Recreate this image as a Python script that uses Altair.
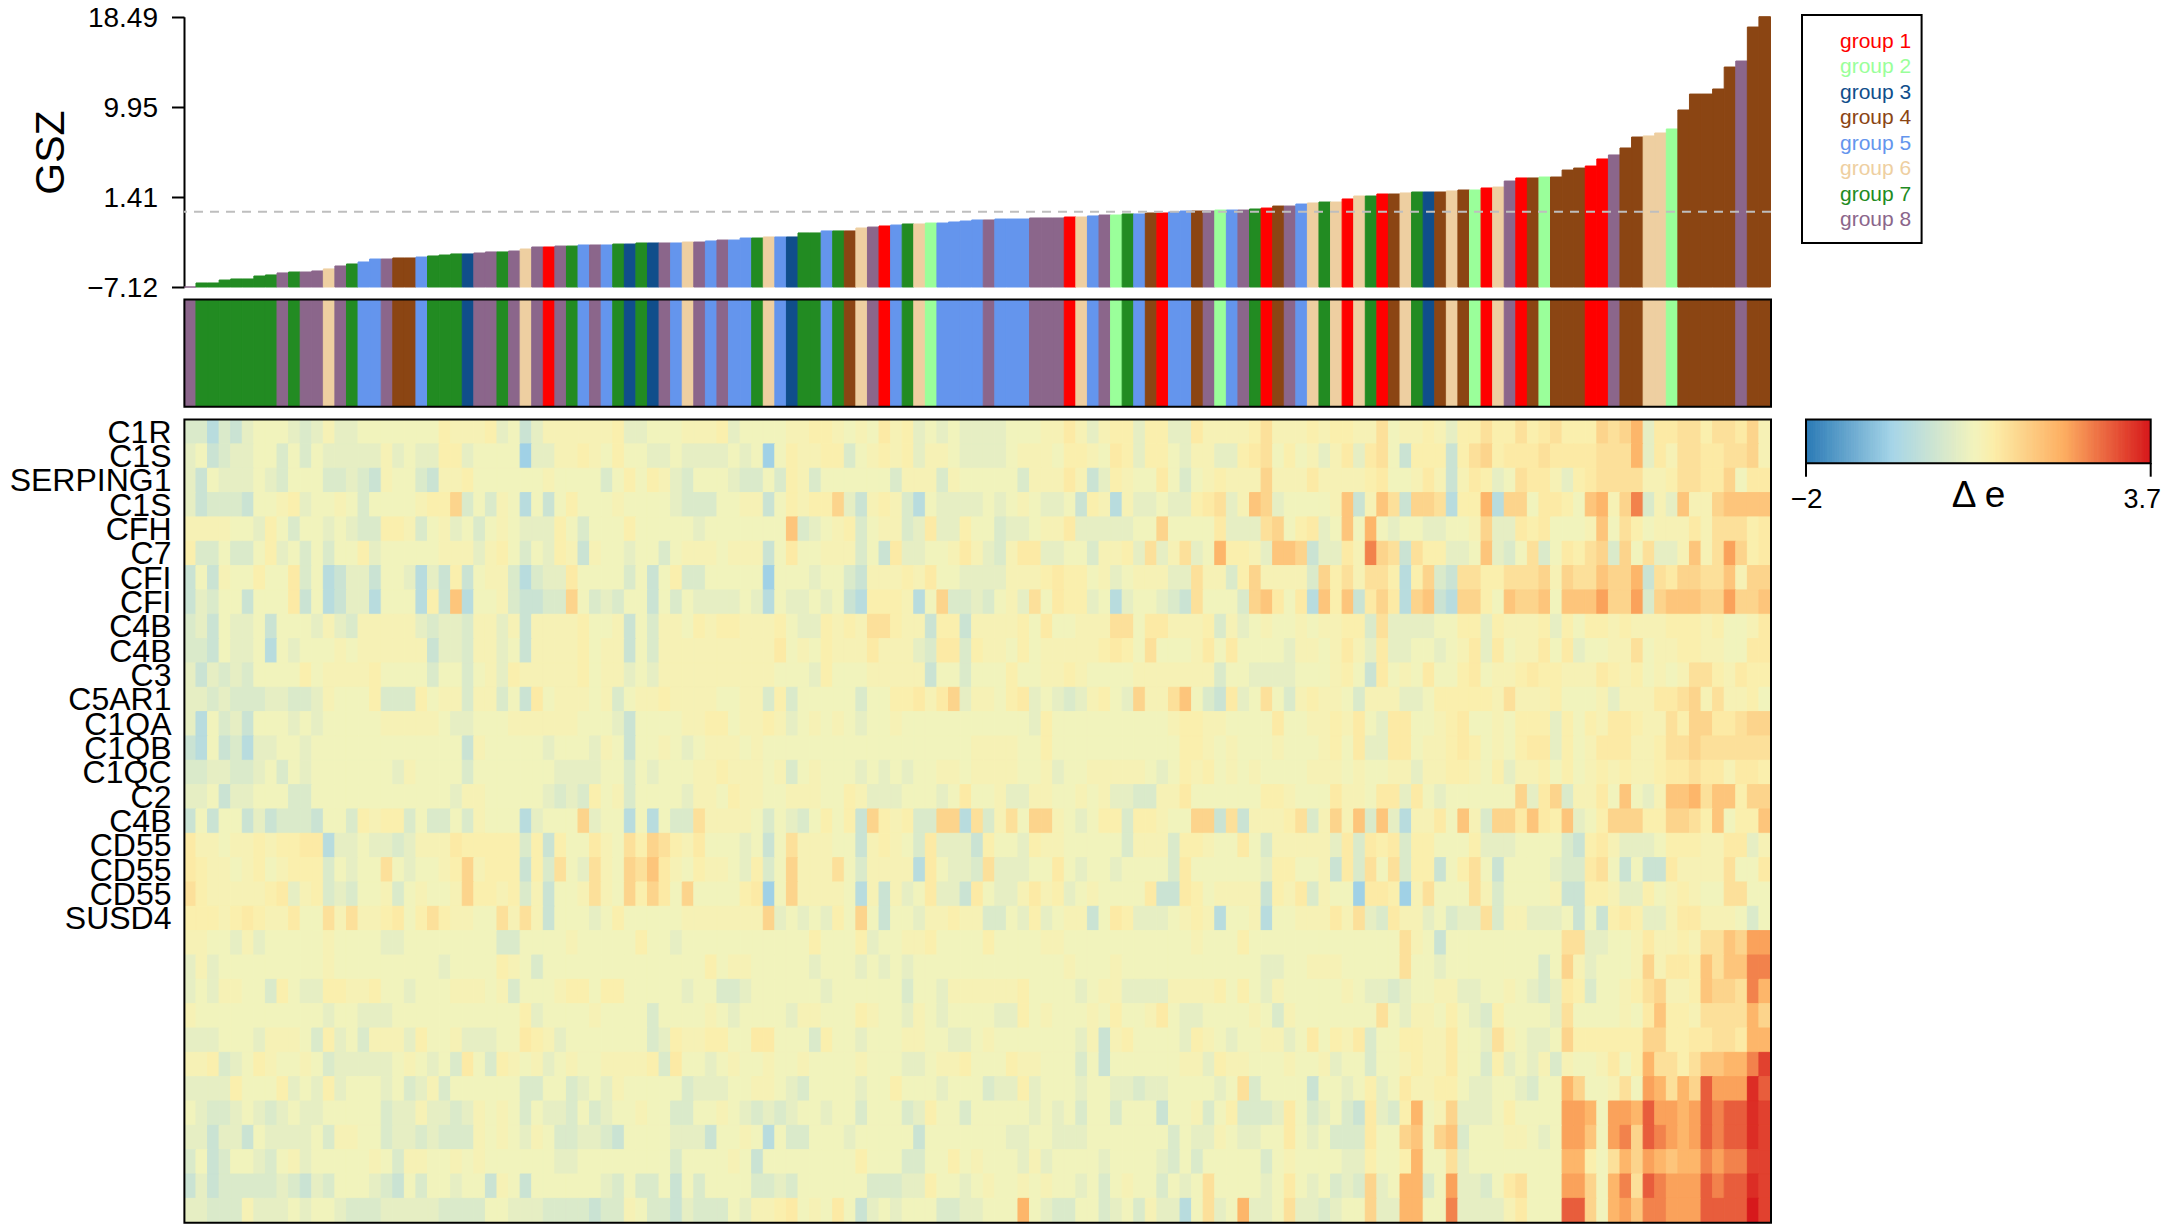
import altair as alt
import pandas as pd

FONT = "Liberation Sans"

GROUP_NAMES = ["group 1", "group 2", "group 3", "group 4", "group 5", "group 6", "group 7", "group 8"]
GROUP_COLORS = ["#ff0000", "#9aff9a", "#104e8b", "#8b4513", "#6495ed", "#eecfa1", "#228b22", "#8b668b"]

GSZ_TICKS = [-7.12, 1.41, 9.95, 18.49]

GSZ = [
    -7.12, -6.74, -6.74, -6.46, -6.36, -6.36, -6.08, -5.98, -5.79, -5.70,
    -5.70, -5.60, -5.41, -5.13, -4.94, -4.75, -4.47, -4.47, -4.37, -4.37,
    -4.28, -4.18, -4.09, -3.99, -3.99, -3.90, -3.80, -3.80, -3.71, -3.52,
    -3.33, -3.33, -3.24, -3.24, -3.14, -3.14, -3.14, -3.05, -3.05, -2.95,
    -2.95, -2.95, -2.95, -2.86, -2.86, -2.76, -2.67, -2.67, -2.48, -2.48,
    -2.38, -2.38, -2.38, -2.00, -2.00, -1.81, -1.81, -1.81, -1.53, -1.44,
    -1.34, -1.25, -1.15, -1.15, -1.06, -1.06, -0.96, -0.87, -0.77, -0.77,
    -0.68, -0.68, -0.68, -0.58, -0.58, -0.58, -0.49, -0.49, -0.39, -0.30,
    -0.30, -0.20, -0.20, -0.11, -0.11, -0.01, 0.08, 0.08, 0.08, 0.17,
    0.17, 0.17, 0.27, 0.36, 0.55, 0.55, 0.74, 0.84, 0.93, 0.93,
    1.22, 1.50, 1.50, 1.69, 1.69, 1.79, 1.88, 1.88, 1.88, 1.98,
    2.07, 2.07, 2.26, 2.35, 2.92, 3.21, 3.21, 3.30, 3.30, 3.96,
    4.15, 4.34, 5.01, 5.39, 6.05, 7.09, 7.19, 7.47, 7.85, 9.65,
    11.16, 11.16, 11.64, 13.72, 14.29, 17.51, 18.49,
]

GROUPS = [
    8, 7, 7, 7, 7, 7, 7, 7, 8, 7,
    8, 8, 6, 8, 7, 5, 5, 8, 4, 4,
    5, 7, 7, 7, 3, 8, 8, 7, 8, 6,
    8, 1, 8, 7, 5, 8, 5, 7, 3, 7,
    3, 8, 5, 6, 8, 5, 8, 5, 5, 7,
    6, 5, 3, 7, 7, 5, 7, 4, 6, 8,
    1, 5, 7, 6, 2, 5, 5, 5, 5, 8,
    5, 5, 5, 8, 8, 8, 1, 6, 5, 8,
    2, 7, 5, 4, 1, 5, 5, 4, 8, 2,
    5, 8, 7, 1, 4, 8, 5, 6, 7, 6,
    1, 6, 7, 1, 4, 6, 7, 3, 4, 6,
    4, 2, 1, 6, 8, 1, 4, 2, 4, 4,
    4, 1, 1, 8, 4, 4, 6, 6, 2, 4,
    4, 4, 4, 4, 8, 4, 4,
]

ROW_LABELS = ["C1R", "C1S", "SERPING1", "C1S", "CFH", "C7", "CFI", "CFI", "C4B", "C4B", "C3",
              "C5AR1", "C1QA", "C1QB", "C1QC", "C2", "C4B", "CD55", "CD55", "CD55", "SUSD4",
              "", "", "", "", "", "", "", "", "", "", "", ""]

# Delta-e, one letter per cell, see LEVELS
LEVELS = dict(a=-1.05, b=-0.78, c=-0.55, d=-0.35, e=-0.2, f=-0.06, g=0.1, h=0.25, i=0.42, j=0.65,
              k=0.95, l=1.3, m=1.65, n=2.0, o=2.4, p=2.85, q=3.2, r=3.45, s=3.7)

HEAT = [
    "ddbdcefffe degeefffff ffhggghefc egggggghee fffgggheff ffgghhgfgf ighefefeee efffggigeg hhehheeigg gghjggghgh hggjfgghge hhjhhjhijh hhkjkmeiij jhjjikg",
    "efcdeeffdf dfeeeeegef eehheffffa eegghgfhff eefeeeefef afhgghhdfg hgheggfeee efgggfhhgf ihehhfegge ehijfhfgeg ieijfchhhc hjkhiiijii iijjjmeigj jiijjkg",
    "ecfeeefedf ffddedcgff dcgghfffff fgffffdfhf hgedfffedd fdhgdfffff fdgggdgfff ffdgggigce hgffifdfgh gggkgggigg gghiffgigc gihefjiige hijjjjgghj jiikfii",
    "ecdddcffgh effgfdffff ghhkdfdgfb fcfhfffgff ffedddffgg cfhghhkecg hgdbfeeeef efgfeefchg bgeefeehij eglkeffffg lcgljckkjb hhmbkkfiih flmgkodgel ggkllll",
    "ggggffehfd ffefeddhhg dfgefdfgfe eehfdfffhf ffffefffff ffldefghdf ggdeieehff deefggieee eeffkffffi eeejkfhief lfmfeffeef fgkeeihiff fglfjhfggg igjjjhi",
    "hddfddfhef dfdffhefff ffgggeghfd fehgcgffef fdfgggfggg cfiffgggdf cieeffgige dgiieeffdg ghejegjefm hhgellkcee igokjcjhhe efledfjdfi hjkdkfjeeg lgjnkhi",
    "cfcgffhffi dfbceecffe bechcfggdb deeiffffdf cfhddfffff afffeffdcg gghgiffeee eggghihhfg efgggeejgg dhkggggdkh jgjjhbhkdc jjhhjjjkgk jjlkkmcjik kjjlgkk",
    "cedffcfffi cfbceebfff bhclbffgdc cddkfdedff cfdfeeeefe bfeefefcbh hhgbfkdded fgejfihhef beffedcjff fdklifiblh lcikibklcb kkhflkklfl llnkkndkll lkknkkl",
    "decfeefcff fegedggggg edeedggegc gggghffgcf dggfhghhgg ghfeehghgj jhggchhcgg gghfiffggg jjfiiggghd gefgffgfgg hhdjeeeeff hhehgggheh fhhghggghh hghffgi",
    "ddcfeefbfe fffgfggggg gceedggefc gggghfggcf dggggggggg gifgfhgggi gggediidhg gfhfgggggh ihfjfffgif iffffeggfg igeieeffef gieifggifi effggjfggh hggffii",
    "ecededffff hfgggghfff fdffdfgehg gggghfggef eggggggggg gfffehfffg ggggcffdff fhffgghgff ffgggggggd ffeeeefffg hfcifgfiff hifgghihhg ggihghfgfg jjhgihh",
    "eededddeed degfffhddd hfggdggdfc ifgggfgdfg ghggggffgg dhdfffffdf fhhigikegg fhiefedegh fekggjlfdc iefjfdghgg fdgggeefhh hhhgjggghf ffgegggiij kgjgghf",
    "ebfdecfffe fefffffggg ggfeefffgg ggggfffecf fffgghhfgg hgefgfgfef fgffffffff fffehfffff fffffghhgg ffffiffggh gifeiiffgh iffgfhhheh fhgiihggjh kkiijkk",
    "cbfcdbeeff efffffffff ffffcgffff fefffegfcf fgfefgggfg ffffffffff ffffffffgg ggffhfffff ffffffhhgf gfffgfffgh fieeiifggh ihfgfhiieh fgiiigghjj kjjjjjj",
    "ddeeddefdf efffffffeg ffffdfffff ffeeeeffdf efffgghggg fgdfgfffef efeffggfgg ggffgeffgg gggfefhghf gfgffffggg fgffggeggh hgfhegghfh fghghgghii jiigiih",
    "eefceefffd dfffffffff fffeggffff fededhfgdf fffeggfhgg ffgggffhge eefffefiff geeggffgfg eeddggifff fffhhgfffi ggfiieifef fffffkeikd ggiflfegll mjllhkk",
    "cfcffcecdd dcffdhghhd fddfdgfffb efffkeffbf bfddjggggf dfedfhfhck hghddkkbjd gjfkkgfefh hdhhgffkkc jcggghjdgk gldlebggif lgdkkilihl efhkkkhhkk jhlfhhl",
    "iggfgghghh iibeefeede gggihhhhhd hchffigfjh kjhgifffef cfjgggffcg hgfdieeech ffehggffff fdgggdhhgf fifdggggge idihidhhff fheeeffffd chigeeefhh hggiieg",
    "ihggfghfgh hhdfeffjfe ffghkghhhc hdjfejgfkj ligfhggfeh dfkgggjfdg gggbifeedj eeeffifeff effffdifff fffehhffgc idjfjdhhcf hjfcffffed dijfcfccig gggjffi",
    "jhggggghie ghdedffgdf gffgkhhghd gcffgjgfkh kifkffffhi afkggggfbg cgefieecif eegighefgf ffficcihfg gggchgidgf faiihagjff fjgdffffgc chhgeehfgh gffjjff",
    "hhhghihggi ffjgjgghif hjhggffjgj gcfffefhff fffggggggg kefefehfkf cffegghggd dfehefggcf iheeefghgb ffgbffgggi gjediggefd eejdggeeef cfchiheegi igggfdf",
    "ggffegefff ffgffffeef fffffffddf fffgfffffh ffefffffff ffffhfffhe ffgghffffh ffffggffff fffffffgff fhffffffff fffffjgfcf fffffffffj jeeffgiggh gjjlknn",
    "egefffffff ffgfffffff ffeffffhgf dfffffffff fffffhfggf ffffefffef efefffffff ffffffgfff gfffffffff fffeeffggg fffffjffef fffffffdfk gefffgkgii hljlloo",
    "efeggffdhf eehhgghffe fffgggfgdf ffghhfhhff fffeffddef fffffeffff ffdffegggg gghffffefg geeeeggggh fhfegfffff gfeedeffgg eeffgfedei hdffghjkgg hlkkjom",
    "gfffffffff ffeffeeeff fffffffffh effffgffff dffffgfeff ffeggfffhg ffegfeffff eehfgfffgf hffgifeeff ffgfdgffff fffjfeggfh fedhffffej ffffgfilhh gjjjjmk",
    "eeefffeggg fdhefdggge hffgeeeffi hgefffffff dehgghhffi ifffdhffef ffggffeefg fffffffegc ghffffehgf effggefifh gidffhhggi ffejgfeefk hhhhhhkkhh iijjimm",
    "gghdefhgff gfdeeeeefg fefdifdhgf gefgffgggg hdiffefgff gffgffffgf ffeefgghff fhggfffdfc ffffffggeh ggfffgffge ffdffghggi ffdhefegdg ffgifhmjjh jllmmoq",
    "eeeehfffhe fehefffefd egdffffffd dffdefegff fffdeeeffg gfedffffef fhfffefffd eehefffeff eedeeffffe fjdffffcff efhefigghh feeffedffm kffgjfnmjm kpnnnrp",
    "feddefedef eefffffdee geedegfgfd feedfdeffg ffddffgfed edeffeffdf ffdehffdff fffefefdff dfffcffgdf hdddeifdef dciedhmfgk eeefhffffn nmfnnmpnnm npopprq",
    "eeceecfeee efdggffdee dedddgfgfe gfddeedcff ffeeecffgf bfddfffeff fffcffffff feeffeeeff fffffdfeeg feeffifefd ddiffklfkl dfffggfefn nlfnokponm npopprq",
    "dfcdffedfg efffffgfdg gffgfgffff ffeeffffff ffdffffgfc ffffffffhf ffddffhfgf ffegeffffe ffffedfdff fffdfgffff eehffhmffj effffffffm mhfjmknmlm monooqq",
    "cecddddded cedfffedcf dffeffcgfc ffffffedfd dfcfdffffd dedffffffd ddeehffefg ffgfgffefd fgffdfefjf fffefifefd edkefmmdfn eedfijfffn nkfmojponn npopprq",
    "eedddgeeef effedddeee eeddddffee eddddcddgf ddcedddfeg ghifgfifce fefffddeef ffmfeddffd efdgeebfje fmeefjeede ffkeemmffo eeeegifffp pkfmnloonn nppppsq",
]

COLORBAR_STOPS = [-2, -1, -0.05, 0.35, 1.85, 3.7]
COLORBAR_COLORS = ["#2c7bb6", "#a6d5e8", "#f2f3bc", "#fcedA8", "#fdae61", "#d7191c"]

N_COLS = len(GSZ)
HEAT = [r.replace(" ", "") for r in HEAT]
bad = [(i, len(r)) for i, r in enumerate(HEAT) if len(r) != N_COLS]
assert not bad and len(GROUPS) == N_COLS, (bad, len(GROUPS), N_COLS)

COLS = list(range(N_COLS))
ROWS = list(range(len(HEAT)))

bars = pd.DataFrame({"col": COLS, "gsz": GSZ, "base": GSZ_TICKS[0],
                     "group": [GROUP_NAMES[g - 1] for g in GROUPS]})
cells = pd.DataFrame([{"col": c, "row": r, "v": LEVELS[ch]}
                      for r, s in enumerate(HEAT) for c, ch in enumerate(s)])
legend_df = pd.DataFrame({"group": GROUP_NAMES})

# colour bar: half the bar below zero, half above it
N_BAR = 200
ramp = [i / (N_BAR - 1) for i in range(N_BAR)]
bar_vals = [(-2 + 4 * p) if p < 0.5 else (p - 0.5) * 2 * 3.7 for p in ramp]
cbar = pd.DataFrame({"i": list(range(N_BAR)), "v": bar_vals})

one = pd.DataFrame({"a": [0]})

OX, OY = 184, 8  # page position of the drawing origin
PW = 1587
TOTAL_W, TOTAL_H = 2153, 1216
def px(x): return x - OX
def py(y): return y - OY

x_col = alt.X("col:O", scale=alt.Scale(domain=COLS, paddingInner=0, paddingOuter=0, range=[0.4, PW - 0.5]), axis=None)
group_scale = alt.Scale(domain=GROUP_NAMES, range=GROUP_COLORS)
heat_scale = alt.Scale(domain=COLORBAR_STOPS, range=COLORBAR_COLORS, interpolate="rgb", clamp=True)
gsz_y = alt.Scale(domain=[GSZ_TICKS[0], GSZ_TICKS[-1]], range=[py(287), py(16.7)], nice=False, zero=False)

gsz_axis = alt.Axis(orient="left", values=GSZ_TICKS, format=".2f", grid=False, tickSize=12.5, tickWidth=2, domainWidth=2,
                    tickColor="black", domainColor="black", labelColor="black", labelFont=FONT,
                    labelFontSize=28, labelPadding=14, labelOffset=1.6, title="GSZ", titleFont=FONT, titleFontSize=41,
                    titleFontWeight="normal", titleColor="black", titleX=px(51), titleY=py(152),
                    titleBaseline="middle", titleAngle=270, titleAlign="center", labelFlush=False,
                    labelOverlap=False)

bar_layer = alt.Chart(bars).mark_rect(strokeWidth=1).encode(
    x=x_col,
    y=alt.Y("gsz:Q", scale=gsz_y, axis=gsz_axis),
    y2="base:Q",
    color=alt.Color("group:N", scale=group_scale, legend=None),
    stroke=alt.Stroke("group:N", scale=group_scale, legend=None),
)
zero_line = alt.Chart(one).mark_rule(color="#bebebe", strokeWidth=2, strokeDash=[9, 7]).encode(
    y=alt.Y(datum=0, scale=gsz_y, axis=None),
)
strip = alt.Chart(bars).mark_rect(strokeWidth=1).encode(
    x=x_col,
    y=alt.value(py(300)), y2=alt.value(py(406)),
    color=alt.Color("group:N", scale=group_scale, legend=None),
    stroke=alt.Stroke("group:N", scale=group_scale, legend=None),
)

label_expr = "[" + ",".join("'%s'" % s for s in ROW_LABELS) + "][datum.value]"
heat = alt.Chart(cells).mark_rect(strokeWidth=1).encode(
    x=x_col,
    y=alt.Y("row:O", scale=alt.Scale(domain=ROWS, range=[py(419.6), py(1222.7)], paddingInner=0, paddingOuter=0),
            axis=alt.Axis(orient="left", title=None, ticks=False, domain=False, labelExpr=label_expr, labelFont=FONT,
                          labelFontSize=32, labelColor="black", labelPadding=13, labelOffset=1, labelOverlap=False,
                          labelAngle=0, grid=False)),
    color=alt.Color("v:Q", scale=heat_scale, legend=None),
    stroke=alt.Stroke("v:Q", scale=heat_scale, legend=None),
)

def box(x0, y0, x1, y1, width=2):
    return alt.Chart(one).mark_rect(fillOpacity=0, stroke="black", strokeWidth=width).encode(
        x=alt.value(px(x0)), x2=alt.value(px(x1)), y=alt.value(py(y0)), y2=alt.value(py(y1)))

def label(txt, x, y, size, align="center"):
    return alt.Chart(one).mark_text(text=txt, font=FONT, fontSize=size, color="black", align=align,
                                    baseline="middle").encode(x=alt.value(px(x)), y=alt.value(py(y)))

legend_text = alt.Chart(legend_df).mark_text(font=FONT, fontSize=21, align="left", baseline="middle").encode(
    x=alt.value(px(1840)),
    y=alt.Y("group:N", scale=alt.Scale(domain=GROUP_NAMES, type="point", range=[py(41.7), py(220)], padding=0), axis=None),
    text="group:N",
    color=alt.Color("group:N", scale=group_scale, legend=None),
)

cbar_rect = alt.Chart(cbar).mark_rect(strokeWidth=1).encode(
    x=alt.X("i:O", scale=alt.Scale(domain=list(range(N_BAR)), range=[px(1806.5), px(2150.5)], paddingInner=0, paddingOuter=0), axis=None),
    y=alt.value(py(420)), y2=alt.value(py(463)),
    color=alt.Color("v:Q", scale=heat_scale, legend=None),
    stroke=alt.Stroke("v:Q", scale=heat_scale, legend=None),
)

def tick(x):
    return alt.Chart(one).mark_rule(color="black", strokeWidth=2).encode(
        x=alt.value(px(x)), y=alt.value(py(463)), y2=alt.value(py(476.7)))

chart = alt.layer(
    bar_layer, zero_line, strip, box(184.4, 299.5, 1771, 406.7),
    heat, box(184.4, 419.5, 1771, 1222.8),
    box(1802, 15, 1921.6, 243), legend_text,
    cbar_rect, box(1806, 419.5, 2150.7, 463.3), tick(1806), tick(2150.7),
    label("−2", 1806.7, 500, 28), label("3.7", 2161, 500, 27, align="right"), label("Δ e", 1978.5, 495.5, 37),
).resolve_scale(x="independent", y="independent", color="independent", stroke="independent").properties(
    width=PW, height=TOTAL_H,
    padding={"left": OX - 8, "top": 0, "right": TOTAL_W - (OX - 8) - PW, "bottom": 0},
    autosize=alt.AutoSizeParams(type="none"),
).configure_view(stroke=None)

chart.save("out.html", embed_options={"renderer": "svg", "actions": False})
